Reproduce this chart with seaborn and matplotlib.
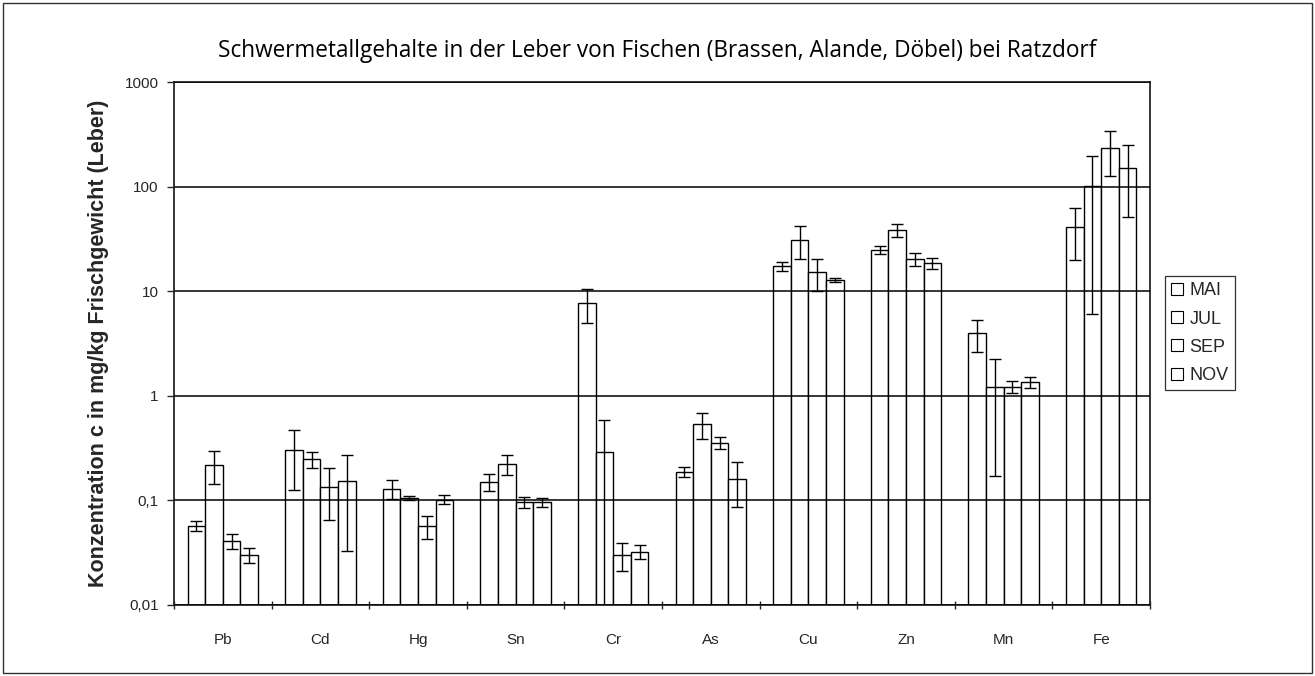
import matplotlib
matplotlib.use("Agg")
import matplotlib.pyplot as plt
from matplotlib.patches import Rectangle
from matplotlib.ticker import FixedLocator, FixedFormatter, NullFormatter
import numpy as np
import pandas as pd
import seaborn as sns

# data (mg/kg fresh weight, liver)
metals = ["Pb", "Cd", "Hg", "Sn", "Cr", "As", "Cu", "Zn", "Mn", "Fe"]
months = ["MAI", "JUL", "SEP", "NOV"]

mai = [0.057, 0.30, 0.129, 0.151, 7.7, 0.188, 17.4, 24.8, 3.95, 41]
jul = [0.22, 0.247, 0.105, 0.223, 0.292, 0.54, 31, 38.5, 1.22, 102]
sep = [0.041, 0.135, 0.057, 0.096, 0.030, 0.356, 15.2, 20.3, 1.22, 235]
nov = [0.030, 0.153, 0.102, 0.096, 0.0324, 0.159, 12.8, 18.5, 1.35, 150]

mai_err = [0.006, 0.175, 0.026, 0.027, 2.7, 0.02, 1.7, 2.1, 1.35, 21]
jul_err = [0.077, 0.043, 0.004, 0.048, 0.29, 0.15, 10.6, 5.7, 1.05, 96]
sep_err = [0.007, 0.07, 0.014, 0.011, 0.009, 0.045, 5.2, 3.0, 0.15, 108]
nov_err = [0.005, 0.12, 0.01, 0.01, 0.005, 0.072, 0.5, 2.2, 0.16, 99]

yticks = [0.01, 0.1, 1, 10, 100, 1000]
ytick_labels = ["0,01", "0,1", "1", "10", "100", "1000"]

values = [mai, jul, sep, nov]
errors = [mai_err, jul_err, sep_err, nov_err]

df = pd.DataFrame({
    "metal": np.tile(metals, len(months)),
    "month": np.repeat(months, len(metals)),
    "value": np.concatenate(values),
})

sns.set_theme(style="white")
plt.rcParams["font.family"] = ["Liberation Sans", "DejaVu Sans"]

fig = plt.figure(figsize=(13.15, 6.76), dpi=100)
ax = fig.add_axes([174 / 1315, 1 - 605 / 676, 976 / 1315, 523 / 676])

sns.barplot(data=df, x="metal", y="value", hue="month", order=metals,
            hue_order=months, palette=["white"] * 4, edgecolor="black",
            linewidth=1.0, width=0.72, errorbar=None, saturation=1,
            ax=ax)
ax.set_yscale("log")

# error bars at the centre of each seaborn bar
for cont, err in zip(ax.containers, errors):
    xs = [b.get_x() + b.get_width() / 2 for b in cont]
    ys = np.array([b.get_height() for b in cont])
    err = np.array(err)
    lower = np.minimum(err, ys * 0.995)
    ax.errorbar(xs, ys, yerr=[lower, err], fmt="none", ecolor="black",
                elinewidth=1.0, capsize=4.5, capthick=1.0, zorder=4)

ax.set_ylim(0.01, 1000)
ax.set_xlim(-0.5, len(metals) - 0.5)
ax.yaxis.set_major_locator(FixedLocator(yticks))
ax.yaxis.set_major_formatter(FixedFormatter(ytick_labels))
ax.yaxis.set_minor_locator(FixedLocator([]))
ax.tick_params(axis="y", which="major", left=True, length=5, width=1,
               direction="out", labelsize=11, pad=6)

# tick marks at group boundaries, labels at group centres
ax.set_xticks(np.arange(len(metals)))
ax.set_xticklabels(metals)
ax.set_xticks(np.arange(len(metals) + 1) - 0.5, minor=True)
ax.xaxis.set_minor_formatter(NullFormatter())
ax.tick_params(axis="x", which="major", length=0, labelsize=11, pad=20)
ax.tick_params(axis="x", which="minor", bottom=True, length=6, width=1,
               direction="inout")

ax.grid(axis="y", which="major", color="black", linewidth=1.1)
ax.set_axisbelow(False)
for sp in ax.spines.values():
    sp.set_color("black")
    sp.set_linewidth(1.1)

ax.set_xlabel("")
ax.set_ylabel("Konzentration c in mg/kg Frischgewicht (Leber)",
              fontsize=15.5, fontweight="bold", labelpad=11)

fig.text(0.5, 1 - 51 / 676,
         "Schwermetallgehalte in der Leber von Fischen (Brassen, Alande, Döbel) bei Ratzdorf",
         ha="center", va="center", fontsize=16.3, color="black",
         family=["Open Sans", "DejaVu Sans"])

leg = ax.legend(loc="upper left", bbox_to_anchor=(1165 / 1315, 1 - 276 / 676),
                bbox_transform=fig.transFigure, title=None, fontsize=13,
                frameon=True, fancybox=False, handlelength=0.65,
                handleheight=0.65, handletextpad=0.35, labelspacing=0.62,
                borderpad=0.35, borderaxespad=0)
leg.get_frame().set_edgecolor("black")
leg.get_frame().set_linewidth(0.9)
for h in leg.legend_handles:
    h.set_edgecolor("black")
    h.set_linewidth(0.8)

# thin frame around the whole figure
fig.patches.append(Rectangle((3 / 1315, 3 / 676), 1 - 6 / 1315, 1 - 6 / 676,
                             transform=fig.transFigure, fill=False,
                             edgecolor="#333333", linewidth=1.0))

fig.savefig("out.png", dpi=100)
